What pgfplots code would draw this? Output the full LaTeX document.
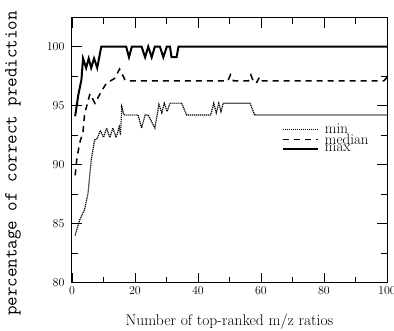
\documentclass[border=0pt]{standalone}
\usepackage{pgfplots}
\pgfplotsset{compat=1.18}
\begin{document}
\begin{tikzpicture}
\begin{axis}[
  name=ax,
  scale only axis,
  width=315pt, height=265pt,
  xmin=0, xmax=100, ymin=80, ymax=102.45,
  xtick={0,20,40,60,80,100},
  ytick={80,85,90,95,100},
  minor x tick num=1,
  minor y tick num=1,
  tick align=inside,
  major tick length=10pt,
  minor tick length=6pt,
  tick style={line width=0.8pt, black},
  axis line style={line width=1pt},
  ticklabel style={font=\fontsize{12.5}{12}\selectfont},
  yticklabel style={xshift=-4pt},
  xticklabel style={yshift=-1pt},
  xlabel={Number of top-ranked m/z ratios},
  xlabel style={at={(rel axis cs:0.5,0)}, anchor=center, yshift=-38.5pt, font=\fontsize{15.5}{16}\selectfont},
  ylabel={percentage of correct prediction},
  ylabel style={at={(rel axis cs:0,0.45)}, anchor=center, rotate=0, yshift=59pt, font=\fontsize{18.5}{18}\selectfont\ttfamily},
  legend style={draw=none, fill=none, at={(rel axis cs:0.666,0.605)}, anchor=north west,
    font=\fontsize{15}{11}\selectfont, row sep=-3pt, inner sep=0pt,
    nodes={inner sep=1pt}},
  legend cell align=left,
  legend image code/.code={\draw[#1] (0pt,0pt) -- (35pt,0pt);},
  legend style={/tikz/every odd column/.append style={column sep=5pt}},
]
\addplot[black, line width=1.2pt, dash pattern=on 1.2pt off 0.8pt] coordinates {
(1,84)(2.4,85.3)(4,86.2)(5.1,87.6)(6.1,90.4)(7.2,92.1)(8,92.2)(9,92.9)(10,92.3)(11,93.1)(12,92.3)(13,93.1)(14,92.3)(15,93.2)(15.4,92.5)(15.8,94.9)(16.5,94.2)
(21,94.2)(22.1,93.1)(23.2,94.2)(24.2,94.2)(26.3,93.1)(27.6,95.1)(28.5,94.4)(29.3,95.2)(30.2,94.5)(31.1,95.2)(34.8,95.2)(36.4,94.2)
(44,94.2)(45,95.2)(45.8,94.4)(46.6,95.2)(47.3,94.5)(48,95.2)(56.5,95.2)(58,94.2)(100,94.2)
};
\addlegendentry{min}
\addplot[black, line width=1.5pt, dash pattern=on 6pt off 5pt] coordinates {
(1,89.1)(1.5,90.4)(2.4,91.8)(3.5,92.8)(4,94.3)(5,95.3)(5.7,96)(7.3,95.2)(8.9,96)(10.9,96.9)(13.5,97.3)(15.1,98.1)(16.8,97.2)(17.5,97.1)
(49.5,97.1)(50.3,97.6)(51.3,97.1)(56,97.1)(56.8,97.6)(57.5,97.1)(58.5,96.9)(59.5,97.4)(60,97.1)(99,97.1)(100,97.4)
};
\addlegendentry{median}
\addplot[black, line width=2pt] coordinates {
(1,94.1)(2,95.9)(3,97.2)(3.5,99)(4.5,98.2)(5.3,99)(6.1,98.2)(7,99)(8,98.2)(9.3,100)
(17.2,100)(18.1,99.1)(19,100)(22.1,100)(23.2,99.1)(24.2,100)(25.3,99.1)(26.3,100)(27.9,100)(29,99.1)(30.1,100)(31.1,100)(31.6,99.1)(33.2,99.1)(33.8,100)(100,100)
};
\addlegendentry{max}
\end{axis}
\pgfresetboundingbox
\path ([shift={(-72pt,-47.3pt)}]ax.south west) rectangle ([shift={(7pt,17.7pt)}]ax.north east);
\end{tikzpicture}
\end{document}
